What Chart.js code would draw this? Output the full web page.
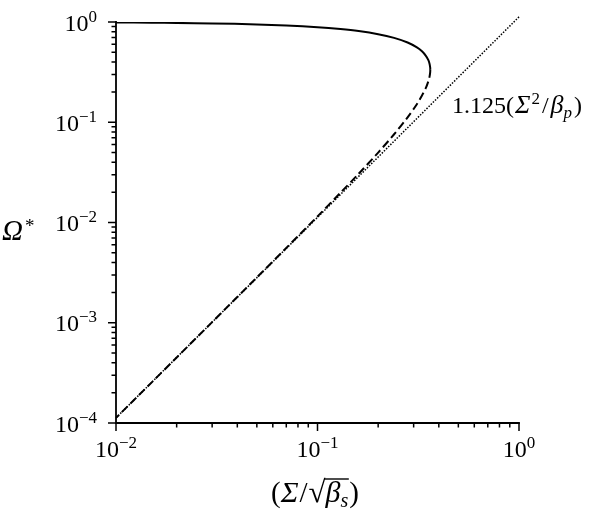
<!DOCTYPE html>
<html>
<head>
<meta charset="utf-8">
<script src="https://cdn.jsdelivr.net/npm/chart.js@4.4.1/dist/chart.umd.min.js"></script>
<style>
  html, body { margin: 0; padding: 0; background: #fff; }
  #wrap { width: 593px; height: 518px; position: relative; }
</style>
</head>
<body>
<div id="wrap"><canvas id="chart"></canvas></div>
<script>
// upper branch (solid)
const upperSigma = [0.01, 0.015, 0.02, 0.03, 0.05, 0.07, 0.1, 0.13, 0.16, 0.2, 0.24, 0.28, 0.31, 0.33, 0.345, 0.355, 0.36, 0.3625, 0.3629];
const upperOmega = [0.989, 0.984, 0.979, 0.968, 0.946, 0.923, 0.887, 0.85, 0.812, 0.756, 0.694, 0.624, 0.561, 0.51, 0.46, 0.417, 0.382, 0.35, 0.333];

// lower branch (dashed)
const lowerSigma = [0.3629, 0.3625, 0.36, 0.355, 0.345, 0.33, 0.31, 0.28, 0.24, 0.2, 0.16, 0.13, 0.1, 0.07, 0.05, 0.03, 0.02, 0.015, 0.01];
const lowerOmega = [0.333, 0.317, 0.287, 0.257, 0.22, 0.185, 0.1495, 0.112, 0.0759, 0.0498, 0.0306, 0.0198, 0.01151, 0.00557, 0.00283, 0.001015, 0.00045, 0.000253, 0.0001125];

// asymptote 1.125(Sigma^2/beta_p), dotted
const asymSigma = [0.01, 1];
const asymOmega = [0.0001125, 1.125];

// axis ticks
const xMajor = [0.01, 0.1, 1];
const xMajorExp = ['\u22122', '\u22121', '0'];
const yMajor = [1, 0.1, 0.01, 0.001, 0.0001];
const yMajorExp = ['0', '\u22121', '\u22122', '\u22123', '\u22124'];

const SERIF = "'Liberation Serif', 'Times New Roman', serif";

function pairs(xs, ys) {
  return xs.map((x, i) => ({ x: x, y: ys[i] }));
}

function minorsOf(majors) {
  const out = [];
  const sorted = majors.slice().sort((a, b) => a - b);
  for (let i = 0; i < sorted.length - 1; i++) {
    for (let m = 2; m <= 9; m++) out.push(m * sorted[i]);
  }
  return out;
}

// draw a row of text pieces (size, italic, vertical shift, gap before)
function drawRuns(ctx, runs, x, y, align) {
  let total = 0;
  runs.forEach(r => {
    ctx.font = (r.it ? 'italic ' : '') + r.s + 'px ' + SERIF;
    r.w = ctx.measureText(r.t).width;
    total += r.w + (r.gap || 0);
  });
  let cx = x;
  if (align === 'right') cx = x - total;
  if (align === 'center') cx = x - total / 2;
  ctx.textAlign = 'left';
  ctx.textBaseline = 'alphabetic';
  runs.forEach(r => {
    ctx.font = (r.it ? 'italic ' : '') + r.s + 'px ' + SERIF;
    cx += r.gap || 0;
    r.x0 = cx;
    ctx.fillText(r.t, cx, y + (r.dy || 0));
    cx += r.w;
    r.x1 = cx;
  });
  return runs;
}

function pow10(exp) {
  return [{ t: '10', s: 24 }, { t: exp, s: 17, dy: -9 }];
}

const axesPlugin = {
  id: 'axesPlugin',
  afterDraw(chart) {
    const ctx = chart.ctx;
    const xs = chart.scales.x, ys = chart.scales.y;
    const a = chart.chartArea;
    ctx.save();
    ctx.fillStyle = '#000';
    ctx.strokeStyle = '#000';

    // spines
    ctx.lineWidth = 1.8;
    ctx.lineCap = 'square';
    ctx.beginPath();
    ctx.moveTo(a.left, a.top);
    ctx.lineTo(a.left, a.bottom);
    ctx.lineTo(a.right, a.bottom);
    ctx.stroke();

    // tick marks
    ctx.lineCap = 'butt';
    ctx.lineWidth = 1.5;
    ctx.beginPath();
    xMajor.forEach(v => {
      const px = xs.getPixelForValue(v);
      ctx.moveTo(px, a.bottom); ctx.lineTo(px, a.bottom + 8);
    });
    minorsOf(xMajor).forEach(v => {
      const px = xs.getPixelForValue(v);
      ctx.moveTo(px, a.bottom); ctx.lineTo(px, a.bottom + 4.5);
    });
    yMajor.forEach(v => {
      const py = ys.getPixelForValue(v);
      ctx.moveTo(a.left, py); ctx.lineTo(a.left - 8, py);
    });
    minorsOf(yMajor).forEach(v => {
      const py = ys.getPixelForValue(v);
      ctx.moveTo(a.left, py); ctx.lineTo(a.left - 4.5, py);
    });
    ctx.stroke();

    // tick labels
    xMajor.forEach((v, i) => {
      drawRuns(ctx, pow10(xMajorExp[i]), xs.getPixelForValue(v), a.bottom + 34, 'center');
    });
    yMajor.forEach((v, i) => {
      drawRuns(ctx, pow10(yMajorExp[i]), a.left - 19, ys.getPixelForValue(v) + 8.5, 'right');
    });

    // y title
    drawRuns(ctx, [{ t: '\u03A9', s: 29, it: true }, { t: '*', s: 19, dy: -8, gap: 2 }], 2, 239.5, 'left');

    // x title  (Σ/√β_s)
    const r = drawRuns(ctx, [
      { t: '(', s: 29 },
      { t: '\u03A3', s: 30, it: true, gap: 0 },
      { t: '/', s: 29, gap: 1 },
      { t: '\u221A', s: 31, gap: 1 },
      { t: '\u03B2', s: 30, it: true, gap: 0 },
      { t: 's', s: 20, it: true, dy: 5, gap: 0 },
      { t: ')', s: 29, gap: 1 }
    ], 315, 502, 'center');
    ctx.lineWidth = 1.4;
    ctx.beginPath();
    ctx.moveTo(r[3].x1 - 1.5, 479);
    ctx.lineTo(r[5].x1 + 0.5, 479);
    ctx.stroke();

    // curve annotation
    drawRuns(ctx, [
      { t: '1.125(', s: 24 },
      { t: '\u03A3', s: 26, it: true, gap: 1 },
      { t: '2', s: 17, dy: -9, gap: 1 },
      { t: '/', s: 24, gap: 2 },
      { t: '\u03B2', s: 26, it: true, gap: 2 },
      { t: 'p', s: 17, it: true, dy: 5, gap: 0 },
      { t: ')', s: 24, gap: 2 }
    ], 452, 113, 'left');

    ctx.restore();
  }
};

new Chart(document.getElementById('chart'), {
  type: 'scatter',
  data: {
    datasets: [
      {
        data: pairs(upperSigma, upperOmega),
        showLine: true,
        borderColor: '#000',
        borderWidth: 2,
        pointRadius: 0,
        tension: 0.3
      },
      {
        data: pairs(lowerSigma, lowerOmega),
        showLine: true,
        borderColor: '#000',
        borderWidth: 2,
        borderDash: [8, 4],
        pointRadius: 0,
        tension: 0.3
      },
      {
        data: pairs(asymSigma, asymOmega),
        showLine: true,
        borderColor: '#000',
        borderWidth: 1.5,
        borderDash: [1.5, 1.5],
        pointRadius: 0,
        clip: false
      }
    ]
  },
  options: {
    responsive: true,
    maintainAspectRatio: false,
    animation: false,
    layout: { padding: { left: 116, top: 22, right: 74, bottom: 95 } },
    plugins: {
      legend: { display: false },
      tooltip: { enabled: false }
    },
    scales: {
      x: { type: 'logarithmic', min: 0.01, max: 1, display: false },
      y: { type: 'logarithmic', min: 0.0001, max: 1, display: false }
    }
  },
  plugins: [axesPlugin]
});
</script>
</body>
</html>
